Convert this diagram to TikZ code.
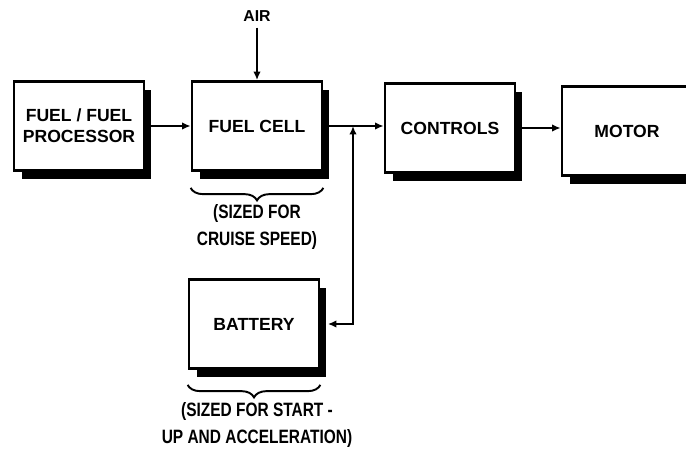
\documentclass[tikz,border=0pt]{standalone}
\usepackage{fontspec}
\setmainfont{Liberation Sans}
\newfontfamily\notefont{Liberation Sans}[FakeStretch=0.8]
\usetikzlibrary{arrows.meta,shadows,decorations.pathreplacing}

\begin{document}
\begin{tikzpicture}[x=0.02cm, y=-0.02cm,
    block/.style={draw, line width=1.6pt, fill=white, minimum width=2.6cm, minimum height=1.78cm,
        align=center, font=\bfseries\fontsize{10}{12}\selectfont,
        drop shadow={shadow xshift=0.15cm, shadow yshift=-0.17cm, fill=black, opacity=1}},
    flow/.style={line width=1.1pt, -{Latex[length=0.17cm,width=0.15cm]}},
    note/.style={align=center, font=\notefont\bfseries\fontsize{11}{15}\selectfont},
    sizebrace/.style={line width=1.1pt, decorate, decoration={brace, mirror, amplitude=0.25cm}}]
    % Frame
    \useasboundingbox (0,0) rectangle (686,452);
    \clip (0,0) rectangle (686,452);

    % Blocks
    \node[block] (fuel)     at (79,126)  {FUEL / FUEL\\PROCESSOR};
    \node[block] (fuelcell) at (257,126) {FUEL CELL};
    \node[block] (controls) at (450,128) {CONTROLS};
    \node[block] (motor)    at (627,131) {MOTOR};
    \node[block] (battery)  at (254,324) {BATTERY};

    % Air inlet
    \node[font=\bfseries\fontsize{9}{10}\selectfont] (air) at (257,16) {AIR};
    \draw[flow] (air) -- (fuelcell.north);

    % Power path
    \draw[flow] (fuel.east) -- (fuel.east -| fuelcell.west);
    \draw[flow] (fuelcell.east) -- (fuelcell.east -| controls.west);
    \draw[flow] (controls.east) -- (controls.east -| motor.west);

    % Battery branch
    \coordinate (tee) at (353,126);
    \draw[line width=1.1pt, {Latex[length=0.17cm,width=0.15cm]}-{Latex[length=0.17cm,width=0.15cm]},
        shorten <=0.15cm] (battery.east) -| (tee);

    % Sizing notes
    \draw[sizebrace] ([yshift=-0.32cm]fuelcell.south west) -- ([yshift=-0.32cm]fuelcell.south east);
    \node[note] (cruise) at (257,227) {(SIZED FOR\\CRUISE SPEED)};
    \draw[sizebrace] ([yshift=-0.3cm]battery.south west) -- ([yshift=-0.3cm]battery.south east);
    \node[note] (startup) at (257,425) {(SIZED FOR START -\\UP AND ACCELERATION)};
\end{tikzpicture}
\end{document}
